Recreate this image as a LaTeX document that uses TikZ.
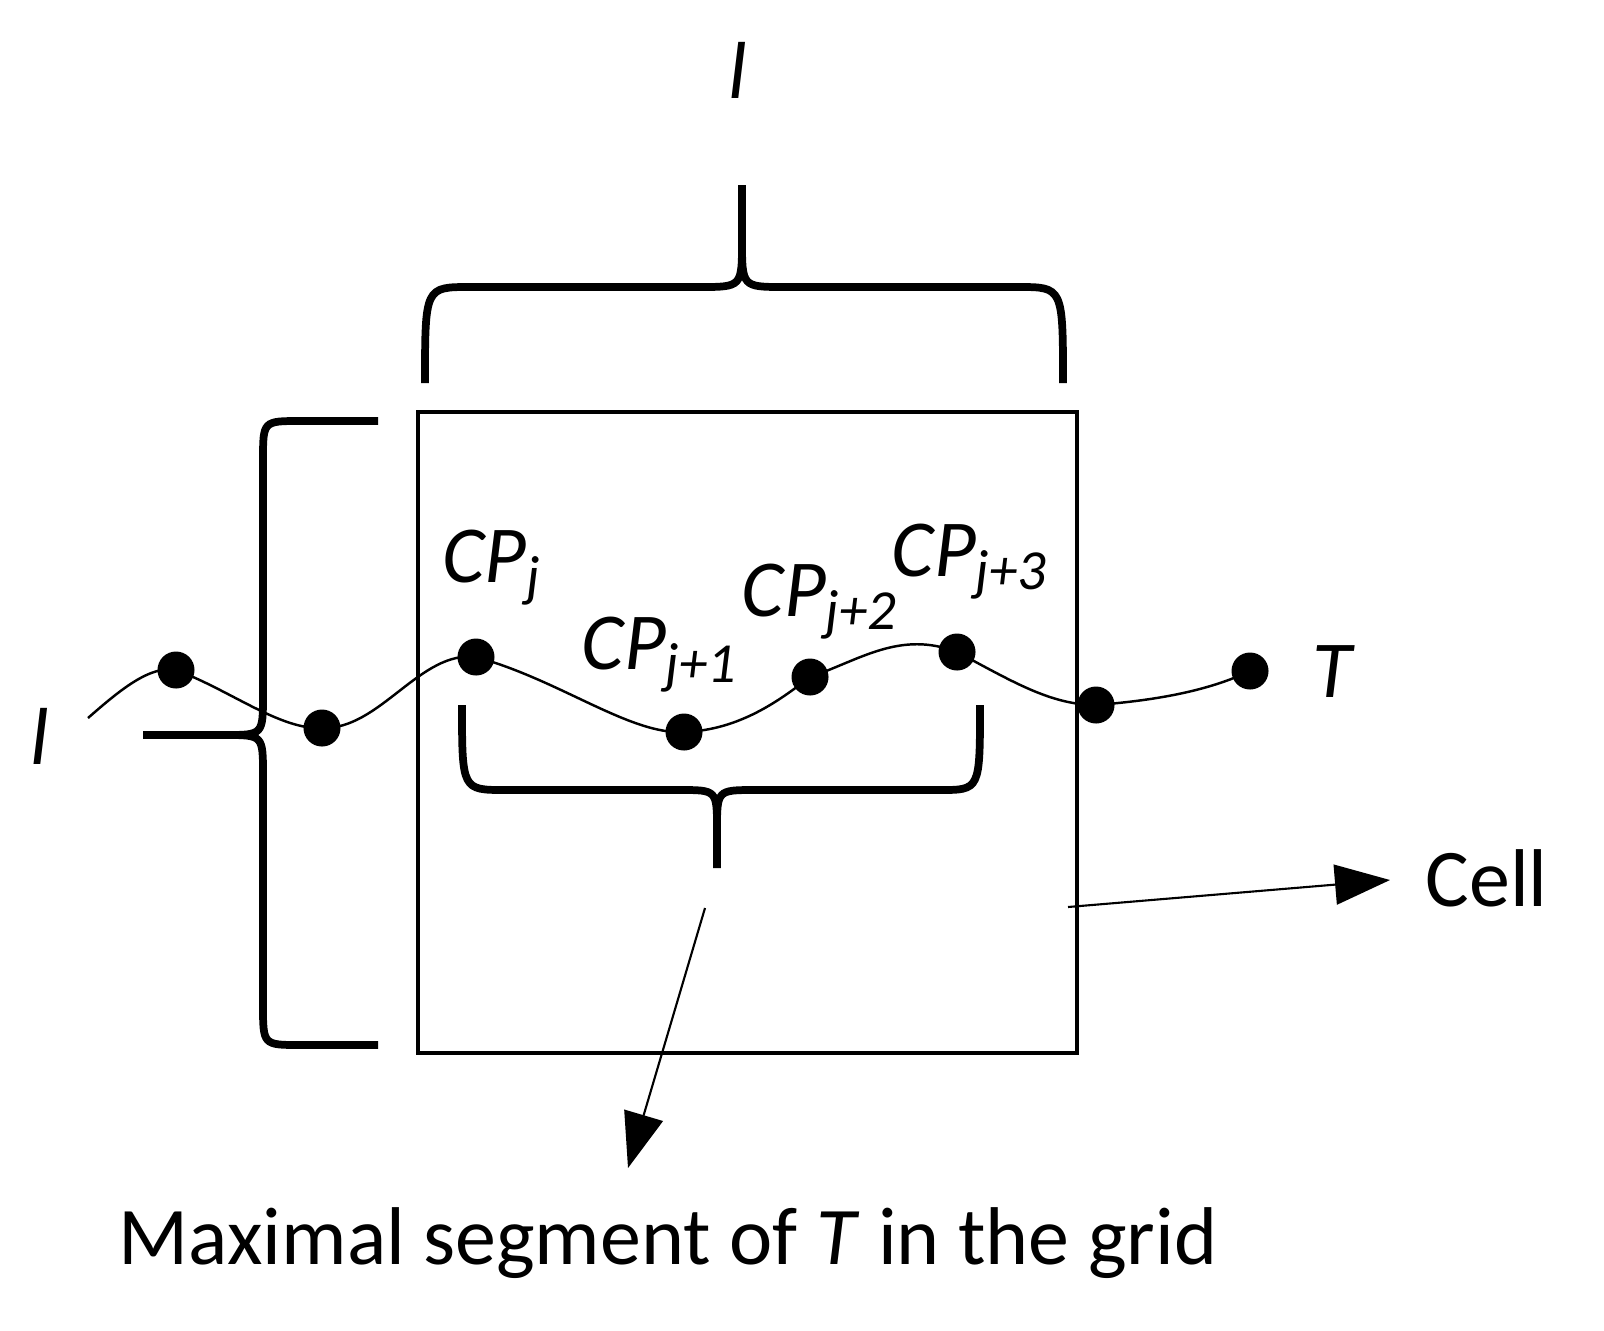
\documentclass[tikz,border=0pt]{standalone}
\usepackage{fontspec}
\setmainfont{Carlito}
\usetikzlibrary{arrows.meta}
\begin{document}
\begin{tikzpicture}[x=0.01cm,y=-0.01cm,
  pt/.style={circle,fill=black,inner sep=0pt,minimum size=0.37cm},
  brace/.style={line width=2.2pt,line cap=butt},
  lbl/.style={font=\fontsize{23}{27}\selectfont\itshape,inner sep=0pt},
  txt/.style={font=\fontsize{23.3}{27}\selectfont,inner sep=0pt},
  arr/.style={line width=0.6pt,-{Triangle[length=0.55cm,width=0.4cm]}}]
\useasboundingbox (0,0) rectangle (1604,1330);
% cell
\draw[line width=1.2pt] (418,412) rectangle (1077,1053);
% top brace
\draw[brace] (425,383) .. controls (425,287) .. (470,287) -- (700,287) .. controls (742,287) .. (742,240) -- (742,185);
\draw[brace] (742,240) .. controls (742,287) .. (784,287) -- (1018,287) .. controls (1063,287) .. (1063,383);
\node[lbl] (ltop) at (738,70) {l};
% left brace
\draw[brace] (378,421) -- (300,421) .. controls (263,421) .. (263,460) -- (263,695) .. controls (263,735) .. (225,735) -- (143,735);
\draw[brace] (225,735) .. controls (263,735) .. (263,775) -- (263,1005) .. controls (263,1045) .. (300,1045) -- (378,1045);
\node[lbl] (lleft) at (40,736) {l};
% bottom brace
\draw[brace] (462,705) .. controls (462,790) .. (505,790) -- (680,790) .. controls (717,790) .. (717,830) -- (717,868);
\draw[brace] (717,830) .. controls (717,790) .. (755,790) -- (940,790) .. controls (980,790) .. (980,705);
% trajectory points
\coordinate (s) at (88,718);
\node[pt] (p1) at (176,670) {};
\node[pt] (p2) at (322,728) {};
\node[pt] (p3) at (476,657) {};
\node[pt] (p4) at (684,732) {};
\node[pt] (p5) at (810,677) {};
\node[pt] (p6) at (957,652) {};
\node[pt] (p7) at (1096,705) {};
\node[pt] (p8) at (1250,671) {};
\draw[line width=0.7pt] (s) .. controls (120,690) and (150,665) .. (p1.center)
  .. controls (230,690) and (280,730) .. (p2.center)
  .. controls (380,730) and (420,650) .. (p3.center)
  .. controls (560,680) and (630,735) .. (p4.center)
  .. controls (740,730) and (780,700) .. (p5.center)
  .. controls (860,660) and (900,630) .. (p6.center)
  .. controls (1010,680) and (1050,705) .. (p7.center)
  .. controls (1160,700) and (1210,690) .. (p8.center);
\node[lbl] (T) at (1332,672) {T};
\node[lbl] (c1) at (492,568) {CP\textsubscript{j}};
\node[lbl] (c2) at (660,655) {CP\textsubscript{j+1}};
\node[lbl] (c3) at (820,602) {CP\textsubscript{j+2}};
\node[lbl] (c4) at (970,562) {CP\textsubscript{j+3}};
% arrows
\coordinate (a1) at (705,908);
\coordinate (a2) at (1068,907);
\node[txt] (seg) at (668,1243) {Maximal segment of \textit{T} in the grid};
\node[txt,anchor=west] (cell) at (1425,878) {Cell};
\draw[arr] (a1) -- (628,1168);
\draw[arr] (a2) -- (1390,880);
\end{tikzpicture}
\end{document}
